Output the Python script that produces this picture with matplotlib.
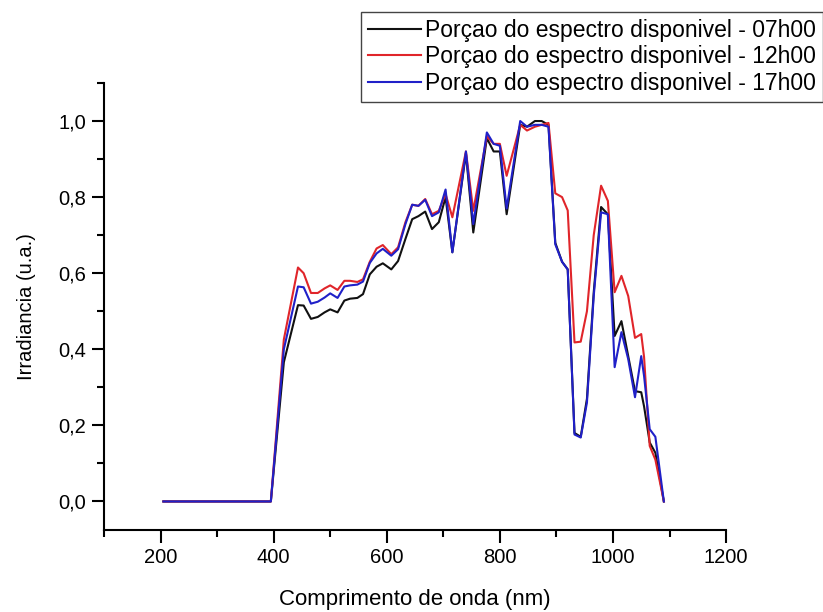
import matplotlib
matplotlib.use("Agg")
import matplotlib.pyplot as plt
from matplotlib.ticker import MultipleLocator, FuncFormatter

plt.rcParams['font.family'] = ['Liberation Sans', 'DejaVu Sans']

# wavelength (nm)
wavelength = [205, 395, 418, 443, 453, 466, 478, 490, 500, 513, 525, 535, 548, 558,
              570, 582, 593, 608, 620, 633, 645, 656, 668, 680, 692, 704, 716, 740,
              753, 777, 789, 800, 812, 836, 848, 862, 874, 886, 898, 910, 920, 932,
              943, 954, 966, 979, 991, 1003, 1015, 1027, 1039, 1050, 1055, 1065, 1075, 1090]

irr_07h = [0, 0, 0.366, 0.516, 0.515, 0.48, 0.485, 0.497, 0.505, 0.497, 0.528, 0.533, 0.535, 0.545,
           0.597, 0.617, 0.626, 0.61, 0.632, 0.69, 0.742, 0.75, 0.762, 0.716, 0.734, 0.80, 0.655, 0.915,
           0.707, 0.955, 0.92, 0.92, 0.755, 0.99, 0.985, 1.0, 1.0, 0.99, 0.68, 0.63, 0.61, 0.18,
           0.17, 0.27, 0.55, 0.774, 0.755, 0.435, 0.474, 0.382, 0.29, 0.287, 0.25, 0.155, 0.128, 0.0]

irr_12h = [0, 0, 0.426, 0.615, 0.60, 0.548, 0.548, 0.56, 0.568, 0.556, 0.58, 0.58, 0.577, 0.584,
           0.63, 0.665, 0.674, 0.65, 0.668, 0.734, 0.78, 0.777, 0.795, 0.755, 0.764, 0.808, 0.747, 0.92,
           0.764, 0.96, 0.94, 0.94, 0.856, 0.99, 0.975, 0.985, 0.99, 0.995, 0.81, 0.80, 0.765, 0.418,
           0.42, 0.50, 0.70, 0.83, 0.79, 0.55, 0.593, 0.54, 0.43, 0.44, 0.38, 0.146, 0.11, 0.0]

irr_17h = [0, 0, 0.40, 0.565, 0.563, 0.52, 0.525, 0.536, 0.547, 0.535, 0.565, 0.568, 0.57, 0.578,
           0.627, 0.652, 0.664, 0.646, 0.663, 0.729, 0.78, 0.777, 0.793, 0.75, 0.76, 0.82, 0.655, 0.92,
           0.729, 0.97, 0.94, 0.935, 0.77, 1.0, 0.985, 0.99, 0.99, 0.985, 0.676, 0.63, 0.61, 0.176,
           0.168, 0.26, 0.54, 0.76, 0.755, 0.353, 0.445, 0.374, 0.274, 0.382, 0.33, 0.19, 0.17, 0.0]

labels = ["Porçao do espectro disponivel - 07h00",
          "Porçao do espectro disponivel - 12h00",
          "Porçao do espectro disponivel - 17h00"]
colors = ["#111111", "#e0252a", "#2020c8"]

fig = plt.figure(figsize=(8.23, 6.12), dpi=100)
ax = fig.add_axes([0.1264, 0.134, 0.7558, 0.7304])

for vals, lab, col in zip([irr_07h, irr_12h, irr_17h], labels, colors):
    ax.plot(wavelength, vals, color=col, linewidth=1.5, label=lab)

ax.set_xlim(100, 1200)
ax.set_ylim(-0.075, 1.1)
ax.xaxis.set_major_locator(MultipleLocator(200))
ax.xaxis.set_minor_locator(MultipleLocator(100))
ax.yaxis.set_major_locator(MultipleLocator(0.2))
ax.yaxis.set_minor_locator(MultipleLocator(0.1))
ax.yaxis.set_major_formatter(FuncFormatter(lambda v, p: f"{v:.1f}".replace(".", ",")))
ax.xaxis.set_major_formatter(FuncFormatter(lambda v, p: f"{int(v)}" if v >= 200 else ""))

for s in ["top", "right"]:
    ax.spines[s].set_visible(False)
for s in ["left", "bottom"]:
    ax.spines[s].set_linewidth(1.5)

ax.tick_params(which="major", direction="out", length=9, width=1.5, labelsize=14.5, pad=4)
ax.tick_params(which="minor", direction="out", length=5, width=1.5)

ax.set_xlabel("Comprimento de onda (nm)", fontsize=16, labelpad=16)
ax.set_ylabel("Irradiancia (u.a.)", fontsize=14.5, labelpad=16)

leg = fig.legend(loc="upper right", bbox_to_anchor=(1.0, 1 - 12 / 612), fontsize=16.5,
                 frameon=True, fancybox=False, edgecolor="#444444", framealpha=1,
                 handlelength=2.3, handletextpad=0.2, borderpad=0.3, labelspacing=0.15,
                 borderaxespad=0.0)
leg.get_frame().set_linewidth(1.0)

fig.savefig("out.png", dpi=100)
